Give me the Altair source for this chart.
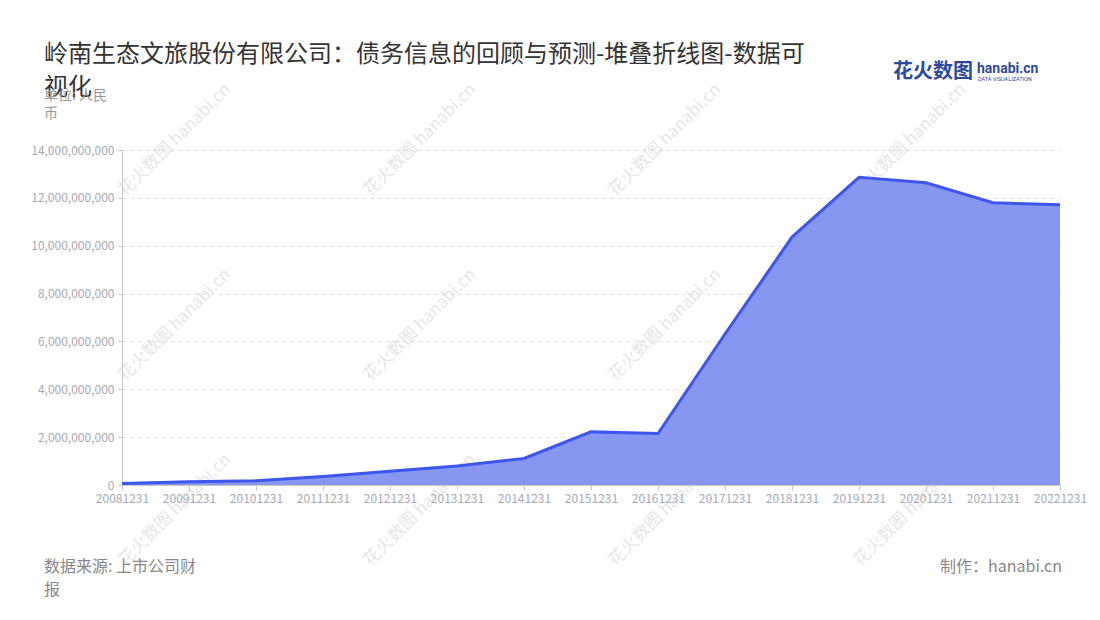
import altair as alt
import pandas as pd

# ---- data ----
dates = ["20081231", "20091231", "20101231", "20111231", "20121231", "20131231",
         "20141231", "20151231", "20161231", "20171231", "20181231", "20191231",
         "20201231", "20211231", "20221231"]
debt = [0.06e9, 0.14e9, 0.18e9, 0.36e9, 0.57e9, 0.79e9, 1.11e9, 2.22e9, 2.15e9,
        6.31e9, 10.36e9, 12.86e9, 12.63e9, 11.80e9, 11.71e9]
y_ticks = [0, 2e9, 4e9, 6e9, 8e9, 10e9, 12e9, 14e9]

title_line1 = "岭南生态文旅股份有限公司：债务信息的回顾与预测-堆叠折线图-数据可"
title_line2 = "视化"
unit_line1 = "单位: 人民"
unit_line2 = "币"
source_line1 = "数据来源: 上市公司财"
source_line2 = "报"
maker = "制作：hanabi.cn"

df = pd.DataFrame({"date": dates, "value": debt})
one = pd.DataFrame({"k": [0]})

FONT = "Noto Sans CJK SC"
W, H = 938, 335

x_enc = alt.X("date:O", sort=dates, title=None,
              scale=alt.Scale(type="point", padding=0),
              axis=alt.Axis(labelAngle=0, labelColor="#a6a9b6", labelFontSize=12,
                            labelFont=FONT, domainColor="#c8c8c8", tickColor="#c8c8c8",
                            tickSize=5, labelPadding=3, grid=False))
y_enc = alt.Y("value:Q", title=None,
              scale=alt.Scale(domain=[0, 14e9], nice=False),
              axis=alt.Axis(values=y_ticks, format=",.0f", labelColor="#a6a9b6",
                            labelFontSize=12, labelFont=FONT, domainColor="#c8c8c8",
                            tickColor="#c8c8c8", tickSize=4, labelPadding=4,
                            grid=True, gridDash=[4, 4], gridColor="#e0e0e0"))

base = alt.Chart(df)
area = base.mark_area(color="#8796f0", opacity=1).encode(x=x_enc, y=y_enc)
line = base.mark_line(color="#3d57ee", strokeWidth=3).encode(x=x_enc, y=y_enc)

# ---- watermarks (decoration) ----
wm_layers = []
for cx in [175 - 122, 420 - 122, 665 - 122, 910 - 122]:
    for cy in [140 - 150, 325 - 150, 510 - 150]:
        wm_layers.append(
            alt.Chart(one).mark_text(text="花火数图 hanabi.cn", angle=315, font=FONT,
                                     fontSize=17, color="#c8c8c8", opacity=0.45,
                                     align="center", baseline="middle")
            .encode(x=alt.value(cx), y=alt.value(cy))
        )

def txt(text, x, y, size, color, align="left", weight="normal", font=FONT):
    return alt.Chart(one).mark_text(text=text, font=font, fontSize=size, color=color,
                                    align=align, baseline="middle", fontWeight=weight) \
        .encode(x=alt.value(x), y=alt.value(y))

texts = [
    txt(title_line1, -78, -95, 24, "#333333"),
    txt(title_line2, -78, -62, 24, "#333333"),
    txt(unit_line1, -78, -54, 14, "#999999"),
    txt(unit_line2, -78, -36, 14, "#999999"),
    txt(source_line1, -78, 417, 16, "#888888"),
    txt(source_line2, -78, 440, 16, "#888888"),
    txt(maker, 940, 417, 16, "#888888", align="right"),
    txt("花火数图", 771, -78, 20, "#2c4a9e", weight="bold"),
    txt("hanabi.cn", 855, -81, 14, "#2c4a9e", weight="bold", font="Roboto"),
    txt("DATA VISUALIZATION", 856, -71, 5.5, "#2c4a9e", font="Roboto"),
]

chart = alt.layer(*wm_layers, area, line, *texts).properties(
    width=W, height=H,
    padding={"left": 114, "top": 142, "right": 30, "bottom": 130},
    autosize=alt.AutoSizeParams(type="none"),
    background="#ffffff",
).configure_view(strokeWidth=0, stroke=None)

chart.save("out.html", embed_options={"renderer": "svg", "actions": False})
